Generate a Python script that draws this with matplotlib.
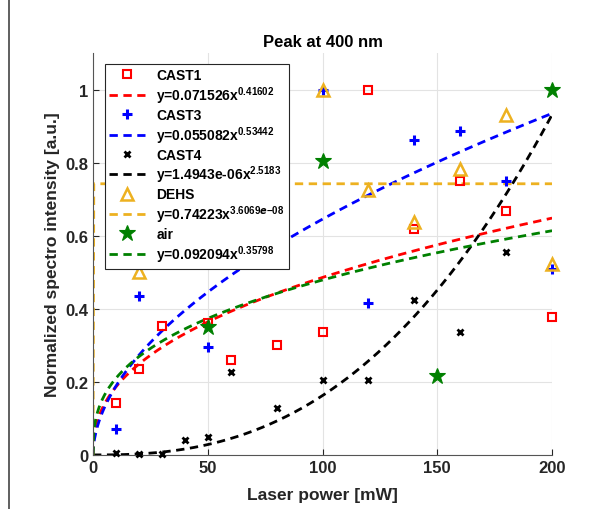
import numpy as np
import matplotlib.pyplot as plt
from matplotlib.lines import Line2D

plt.rcParams['font.family'] = ['Liberation Sans', 'DejaVu Sans']
plt.rcParams['font.weight'] = 'bold'
plt.rcParams['mathtext.fontset'] = 'custom'
plt.rcParams['mathtext.rm'] = 'Liberation Sans:bold'
plt.rcParams['mathtext.bf'] = 'Liberation Sans:bold'

# measured points (laser power in mW, normalized intensity)
cast1_x = [10, 20, 30, 50, 60, 80, 100, 120, 140, 160, 180, 200]
cast1_y = [0.143, 0.235, 0.352, 0.362, 0.26, 0.302, 0.337, 1.0, 0.619, 0.75, 0.669, 0.378]

cast3_x = [10, 20, 50, 100, 120, 140, 160, 180, 200]
cast3_y = [0.07, 0.435, 0.295, 1.0, 0.417, 0.862, 0.887, 0.75, 0.508]

cast4_x = [10, 20, 30, 40, 50, 60, 80, 100, 120, 140, 160, 180]
cast4_y = [0.005, 0.003, 0.003, 0.04, 0.05, 0.228, 0.128, 0.205, 0.205, 0.425, 0.336, 0.555]

dehs_x = [20, 100, 120, 140, 160, 180, 200]
dehs_y = [0.502, 1.0, 0.724, 0.638, 0.784, 0.93, 0.523]

air_x = [50, 100, 150, 200]
air_y = [0.35, 0.805, 0.217, 1.0]

# power-law fit coefficients (a, b) for y = a*x^b, from the legend
fit_a = [0.071526, 0.055082, 1.4943e-06, 0.74223, 0.092094]
fit_b = [0.41602, 0.53442, 2.5183, 3.6069e-08, 0.35798]
fit_a_txt = ['0.071526', '0.055082', '1.4943e-06', '0.74223', '0.092094']
fit_b_txt = ['0.41602', '0.53442', '2.5183', '3.6069e{-}08', '0.35798']

names = ['CAST1', 'CAST3', 'CAST4', 'DEHS', 'air']
colors = ['#ff0000', '#0000ff', '#000000', '#EDB120', '#008000']
xs = [cast1_x, cast3_x, cast4_x, dehs_x, air_x]
ys = [cast1_y, cast3_y, cast4_y, dehs_y, air_y]

fig = plt.figure(figsize=(6.08, 5.10), dpi=100)
ax = fig.add_axes([0.153, 0.106, 0.755, 0.788])

xfit = np.linspace(0, 200, 600)

marker_kw = [
    dict(marker='s', ms=6, mfc='none', mew=1.5),
    dict(marker='+', ms=7, mew=2.2),
    dict(marker='x', ms=5, mew=2),
    dict(marker='^', ms=8.5, mfc='none', mew=1.8),
    dict(marker='*', ms=12, mew=0.8),
]

handles = []
labels = []
for i in range(5):
    h, = ax.plot(xs[i], ys[i], ls='none', color=colors[i], clip_on=False, zorder=3, **marker_kw[i])
    f, = ax.plot(xfit, fit_a[i] * xfit ** fit_b[i], ls=(0, (3, 2)), lw=2, color=colors[i])
    handles += [h, f]
    labels += [names[i], 'y=' + fit_a_txt[i] + 'x$^{' + fit_b_txt[i] + '}$']

ax.set_xlim(0, 200)
ax.set_ylim(0, 1.1)
ax.set_xticks([0, 50, 100, 150, 200])
ax.set_yticks([0, 0.2, 0.4, 0.6, 0.8, 1])
ax.set_yticklabels(['0', '0.2', '0.4', '0.6', '0.8', '1'])
ax.grid(True, color='#e3e3e3', lw=0.8)
ax.set_axisbelow(True)
for s in ['top', 'right']:
    ax.spines[s].set_visible(False)
for s in ['left', 'bottom']:
    ax.spines[s].set_color('#555555')
ax.tick_params(direction='in', length=4, labelsize=12, colors='#262626')
ax.set_xlabel('Laser power [mW]', fontsize=12.5, fontweight='bold', color='#262626', labelpad=9)
ax.set_ylabel('Normalized spectro intensity [a.u.]', fontsize=12.5, fontweight='bold', color='#262626')
ax.set_title('Peak at 400 nm', fontsize=12, fontweight='bold', pad=5)

leg = ax.legend(handles, labels, loc='upper left', bbox_to_anchor=(0.026, 0.973), borderaxespad=0,
                fontsize=10, handlelength=2.6, labelspacing=0.15, borderpad=0.3,
                handletextpad=0.8, fancybox=False, framealpha=1, edgecolor='#262626')
leg.get_frame().set_linewidth(0.8)

fig.add_artist(Line2D([0.014, 0.014], [0, 1], color='#444444', lw=1.2))

fig.savefig('out.png', dpi=100)
